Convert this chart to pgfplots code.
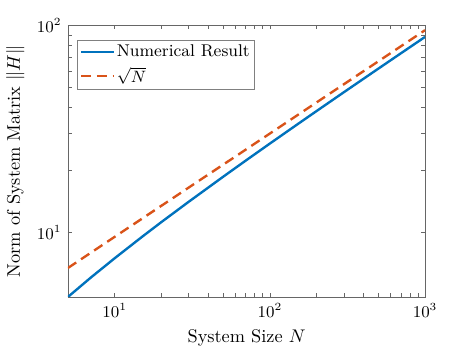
\documentclass[border=0pt]{standalone}
\usepackage{pgfplots}
\pgfplotsset{compat=1.18}

\definecolor{mblue}{RGB}{0,114,189}
\definecolor{morange}{RGB}{217,83,25}

\begin{document}
\begin{tikzpicture}
\begin{loglogaxis}[
    name=ax,
    scale only axis,
    width=195.2pt, height=148.4pt,
    xmin=5, xmax=1000,
    ymin=4.86, ymax=100,
    xtick={10,100,1000},
    ytick={10,100},
    axis line style={black!60},
    every tick/.style={black!60},
    major tick length=2pt,
    minor tick length=2pt,
    tick label style={font=\small},
    xlabel={System Size $N$},
    ylabel={Norm of System Matrix $\|H\|$},
    legend style={at={(0.025,0.945)}, anchor=north west,
        draw=black!50, font=\fontsize{9.3}{11}\selectfont, inner sep=1.5pt,
        nodes={inner sep=0.8pt}, row sep=2.5pt},
    legend cell align=left,
    legend image code/.code={
        \draw[#1] (0pt,0pt) -- (18pt,0pt);
    },
]
% blue curve: numerical result
\addplot[mblue, line width=1.3pt] coordinates {
(5,4.86) (7,6.02) (10,7.48) (15,9.49) (20,11.19) (30,14.03)
(50,18.54) (70,22.21) (100,26.83) (150,33.19) (200,38.55)
(300,47.55) (500,61.81) (700,73.41) (1000,88.02)
};
\addlegendentry{Numerical Result}
% reference slope
\addplot[morange, line width=1.3pt, dash pattern=on 5.4pt off 3.2pt] coordinates {
(5,6.71) (10,9.49) (20,13.42) (50,21.21) (100,30)
(200,42.43) (500,67.08) (1000,94.87)
};
\addlegendentry{$\sqrt{N}$}
\end{loglogaxis}
\useasboundingbox (ax.south west) ++(-32.8pt,-26.9pt) rectangle ([shift={(219.2pt,162.3pt)}]ax.south west);
\end{tikzpicture}
\end{document}
